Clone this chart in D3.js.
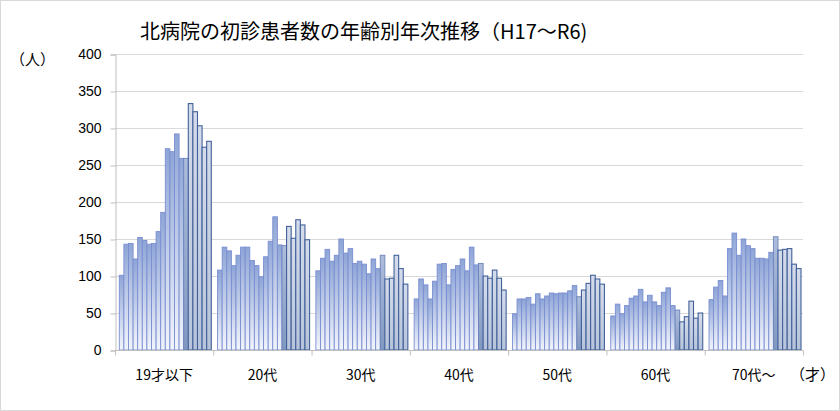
<!DOCTYPE html>
<html>
<head>
<meta charset="utf-8">
<script src="https://cdn.jsdelivr.net/npm/d3@7"></script>
<style>
  body { margin: 0; background: #fff; }
  svg { display: block; font-family: "Liberation Sans", Arial, "Noto Sans CJK JP", sans-serif; }
  .cjk { font-family: "Noto Sans CJK JP", sans-serif; }
</style>
</head>
<body>
<div id="chart"></div>
<script>
// age groups and years (H17 ~ R6)
const groups = ["19才以下", "20代", "30代", "40代", "50代", "60代", "70代～"];
const years = ["H17","H18","H19","H20","H21","H22","H23","H24","H25","H26","H27","H28","H29","H30","R1","R2","R3","R4","R5","R6"];

// first-visit patients per year, one array per age group
const under19 = [101,143,144,123,152,148,143,144,160,186,272,268,292,259,259,333,322,303,274,282];
const age20s  = [108,139,134,114,128,139,139,121,114,99,126,147,180,142,141,167,151,176,169,149];
const age30s  = [107,124,136,120,128,150,131,137,117,120,116,103,123,110,128,96,97,128,110,89];
const age40s  = [69,96,88,69,93,116,117,88,109,114,123,107,139,115,117,100,97,108,97,81];
const age50s  = [49,69,69,71,62,76,69,73,77,76,77,77,80,87,72,81,90,101,96,89];
const age60s  = [46,62,49,60,70,73,82,65,74,65,60,78,84,60,54,38,45,66,43,50];
const age70up = [68,85,94,73,137,158,128,150,141,137,124,124,123,132,153,135,136,137,116,110];

const series = [under19, age20s, age30s, age40s, age50s, age60s, age70up];
const yTicks = [0, 50, 100, 150, 200, 250, 300, 350, 400];

const width = 840, height = 411;
const margin = { left: 115, right: 37, top: 54, bottom: 61 };

const svg = d3.select("#chart").append("svg")
  .attr("width", width)
  .attr("height", height);

// outer frame
svg.append("rect")
  .attr("x", 0.5).attr("y", 0.5)
  .attr("width", width - 1).attr("height", height - 1)
  .attr("fill", "#fff").attr("stroke", "#d9d9d9");

const x = d3.scaleBand()
  .domain(groups)
  .range([margin.left, width - margin.right]);

const xi = d3.scaleBand()
  .domain(years)
  .range([4.3, x.bandwidth() - 2]);

const y = d3.scaleLinear()
  .domain([0, 400])
  .range([height - margin.bottom, margin.top]);

// gradients
const defs = svg.append("defs");
function grad(id, top, bottom) {
  const g = defs.append("linearGradient")
    .attr("id", id).attr("x1", 0).attr("y1", 0).attr("x2", 0).attr("y2", 1);
  g.append("stop").attr("offset", "0%").attr("stop-color", top);
  g.append("stop").attr("offset", "100%").attr("stop-color", bottom);
}
grad("gH", "#8ea5d6", "#f3f5fc");
grad("gT", "#aebddc", "#8198c0");
grad("gR", "#d5dceb", "#b6c3da");

// grid lines
svg.append("g")
  .selectAll("line")
  .data(yTicks.filter(d => d > 0))
  .enter().append("line")
  .attr("x1", margin.left).attr("x2", width - margin.right)
  .attr("y1", d => y(d) + 0.5).attr("y2", d => y(d) + 0.5)
  .attr("stroke", "#d9d9d9");

// y axis
const yAxis = svg.append("g")
  .attr("transform", `translate(${margin.left + 0.5},0.5)`)
  .call(d3.axisLeft(y).tickValues(yTicks).tickSize(5).tickPadding(9));
yAxis.select(".domain").attr("stroke", "#bfbfbf");
yAxis.selectAll(".tick line").attr("stroke", "#bfbfbf");
yAxis.selectAll("text").attr("font-size", 14).attr("fill", "#000");

// bars
const cells = svg.append("g")
  .selectAll("g")
  .data(groups)
  .enter().append("g")
  .attr("transform", d => `translate(${x(d)},0)`);

cells.selectAll("rect")
  .data((g, i) => series[i].map((v, j) => ({ year: years[j], idx: j, value: v })))
  .enter().append("rect")
  .attr("x", d => xi(d.year))
  .attr("y", d => y(d.value))
  .attr("width", xi.bandwidth())
  .attr("height", d => y(0) - y(d.value))
  .attr("fill", d => d.idx < 14 ? "url(#gH)" : d.idx === 14 ? "url(#gT)" : "url(#gR)")
  .attr("stroke", d => d.idx < 14 ? "#7a8ed2" : d.idx === 14 ? "#6b83bb" : "#42619a")
  .attr("stroke-width", d => d.idx < 15 ? 0.9 : 1.1);

// x axis
const xAxis = svg.append("g")
  .attr("transform", `translate(0,${y(0) + 0.5})`);
xAxis.append("line")
  .attr("x1", margin.left).attr("x2", width - margin.right)
  .attr("stroke", "#bfbfbf");
xAxis.selectAll(".tk")
  .data(groups.map(g => x(g)).concat([width - margin.right]))
  .enter().append("line")
  .attr("x1", d => d + 0.5).attr("x2", d => d + 0.5)
  .attr("y1", 0).attr("y2", 5)
  .attr("stroke", "#bfbfbf");
xAxis.selectAll("text")
  .data(groups)
  .enter().append("text")
  .attr("class", "cjk")
  .attr("x", d => x(d) + x.bandwidth() / 2)
  .attr("y", 29)
  .attr("text-anchor", "middle")
  .attr("font-size", 14)
  .text(d => d);

// titles and units
svg.append("text")
  .attr("class", "cjk")
  .attr("x", 140).attr("y", 39)
  .attr("font-size", 20)
  .text("北病院の初診患者数の年齢別年次推移（H17～R6)");

svg.append("text")
  .attr("class", "cjk")
  .attr("x", 10).attr("y", 65)
  .attr("font-size", 15)
  .text("（人）");

svg.append("text")
  .attr("class", "cjk")
  .attr("x", 790).attr("y", 380)
  .attr("font-size", 15)
  .text("（才）");
</script>
</body>
</html>
